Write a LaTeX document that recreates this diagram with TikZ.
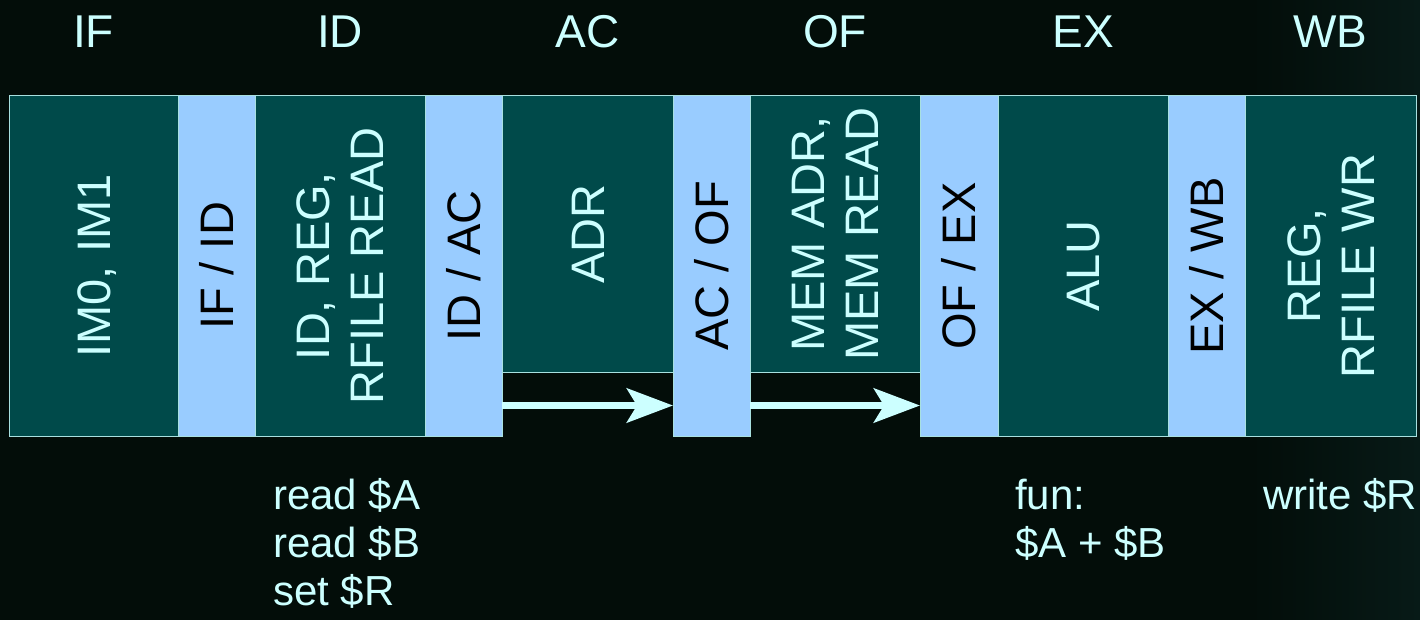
\documentclass[tikz,border=0pt]{standalone}
\usepackage{fontspec}
\setmainfont{Liberation Sans}
\usetikzlibrary{arrows.meta,calc}
\definecolor{bg}{HTML}{030D09}
\definecolor{bgr}{HTML}{071A17}
\definecolor{dk}{HTML}{004A4A}
\definecolor{lt}{HTML}{99CCFF}
\definecolor{txt}{HTML}{CCFFFF}
\definecolor{edge}{HTML}{A8E0E0}
\begin{document}
\begin{tikzpicture}[x=1pt,y=1pt,
  darkbox/.style={draw=edge,line width=1pt,fill=dk,inner sep=0pt,outer sep=0pt},
  lightbox/.style={draw=edge,line width=1pt,fill=lt,inner sep=0pt,outer sep=0pt},
  big/.style={font=\fontsize{47}{54}\selectfont},
  rot1/.style={big,rotate=90,inner sep=0pt,text height=33.6pt,text depth=0pt},
  rot2/.style={big,rotate=90,inner sep=0pt,align=center,text height=87.6pt,text depth=0pt},
  stagelbl/.style={font=\fontsize{46}{54}\selectfont,text=txt,anchor=base,inner sep=0pt},
  note/.style={font=\fontsize{42}{48}\selectfont,text=txt,anchor=base west,align=left,inner sep=0pt},
  flow/.style={draw=txt,line width=7.5pt,-{Stealth[length=46pt,width=34pt,inset=10pt]}}]
\useasboundingbox (0,0) rectangle (1420,-620);
\fill[bg] (0,0) rectangle (1420,-620);
\shade[left color=bg,right color=bgr] (1250,0) rectangle (1420,-620);
% stage boxes
\node[darkbox,minimum width=169,minimum height=340] (im) at (93.5,-266) {};
\node[lightbox,minimum width=77,minimum height=340] (ifid) at (216.5,-266) {};
\node[darkbox,minimum width=170,minimum height=340] (id) at (340,-266) {};
\node[lightbox,minimum width=77,minimum height=340] (idac) at (463.5,-266) {};
\node[darkbox,minimum width=171,minimum height=276] (adr) at (587.5,-234) {};
\node[lightbox,minimum width=77,minimum height=340] (acof) at (711.5,-266) {};
\node[darkbox,minimum width=170,minimum height=276] (mem) at (835,-234) {};
\node[lightbox,minimum width=78,minimum height=340] (ofex) at (959,-266) {};
\node[darkbox,minimum width=170,minimum height=340] (alu) at (1083,-266) {};
\node[lightbox,minimum width=77,minimum height=340] (exwb) at (1206.5,-266) {};
\node[darkbox,minimum width=171,minimum height=340] (wb) at (1330.5,-266) {};
% box texts
\node[rot1,text=txt] (timg) at (im.center) {IM0, IM1};
\node[rot1,text=black] (tifid) at (ifid.center) {IF / ID};
\node[rot2,text=txt] (tid) at (id.center) {ID, REG,\\RFILE READ};
\node[rot1,text=black] (tidac) at (idac.center) {ID / AC};
\node[rot1,text=txt] (tadr) at (adr.center) {ADR};
\node[rot1,text=black] (tacof) at (acof.center) {AC / OF};
\node[rot2,text=txt] (tmem) at (mem.center) {MEM ADR,\\MEM READ};
\node[rot1,text=black] (tofex) at (ofex.center) {OF / EX};
\node[rot1,text=txt] (talu) at (alu.center) {ALU};
\node[rot1,text=black] (texwb) at (exwb.center) {EX / WB};
\node[rot2,text=txt] (twb) at (wb.center) {REG,\\RFILE WR};
% stage names
\node[stagelbl] (sif) at (im.center |- 0,-48) {IF};
\node[stagelbl] (sid) at (id.center |- 0,-48) {ID};
\node[stagelbl] (sac) at (adr.center |- 0,-48) {AC};
\node[stagelbl] (sof) at (mem.center |- 0,-48) {OF};
\node[stagelbl] (sex) at (alu.center |- 0,-48) {EX};
\node[stagelbl] (swb) at (wb.center |- 0,-48) {WB};
% arrows
\draw[flow] ($(idac.south east)+(0,30.5)$) -- ($(acof.south west)+(0,30.5)$);
\draw[flow] ($(acof.south east)+(0,30.5)$) -- ($(ofex.south west)+(0,30.5)$);
% notes (anchor is the baseline of the last line)
\node[note] (nid) at (273,-605) {read \$A\\read \$B\\set \$R};
\node[note] (nalu) at (1015,-557) {fun:\\\$A + \$B};
\node[note] (nwb) at (1263,-509) {write \$R};
\end{tikzpicture}
\end{document}
